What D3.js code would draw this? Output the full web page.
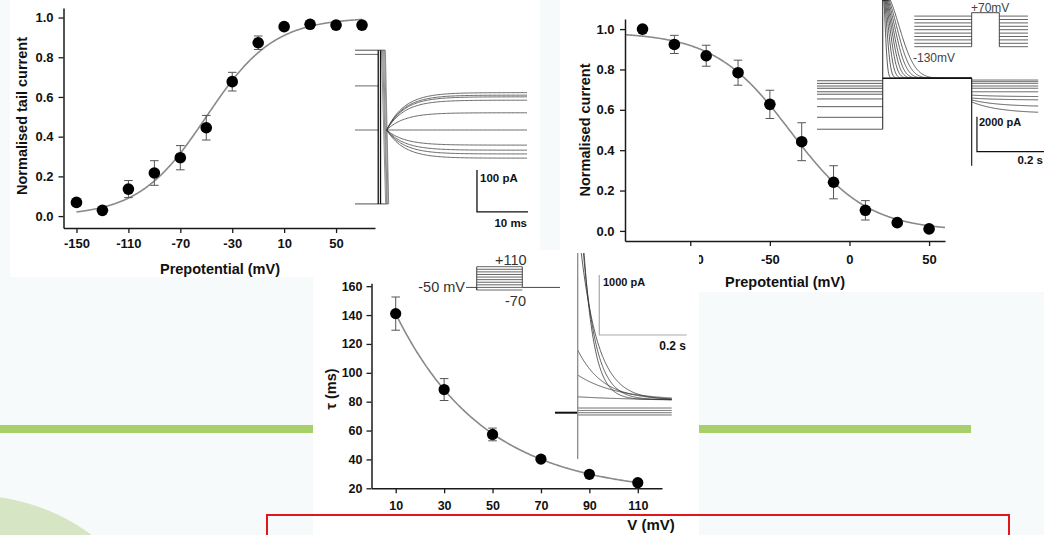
<!DOCTYPE html>
<html>
<head>
<meta charset="utf-8">
<script src="https://cdn.jsdelivr.net/npm/d3@7"></script>
<style>
  html, body { margin: 0; padding: 0; background: #f6fafb; overflow: hidden; }
  svg { display: block; }
</style>
</head>
<body>
<svg id="fig" width="1044" height="535"></svg>
<script>
// ---------------- data ----------------
// Activation: normalised tail current vs prepotential
const actV      = [-150, -130, -110, -90, -70, -50, -30, -10, 10, 30, 50, 70];
const actI      = [0.069, 0.029, 0.136, 0.217, 0.294, 0.445, 0.677, 0.873, 0.954, 0.966, 0.962, 0.962];
const actErr    = [0, 0, 0.043, 0.062, 0.061, 0.062, 0.047, 0.034, 0, 0, 0, 0];
const actXTicks = [-150, -110, -70, -30, 10, 50];
const normYTicks = [0, 0.2, 0.4, 0.6, 0.8, 1.0];
const actFit    = { v50: -50, k: 26 };

// Inactivation: normalised current vs prepotential
const inactV      = [-130, -110, -90, -70, -50, -30, -10, 10, 30, 50];
const inactI      = [1.0, 0.924, 0.868, 0.784, 0.627, 0.442, 0.241, 0.102, 0.041, 0.010];
const inactErr    = [0, 0.045, 0.052, 0.062, 0.070, 0.094, 0.082, 0.048, 0, 0];
const inactXTicks = [-100, -50, 0, 50];
const inactFit    = { top: 0.985, v50: -37, k: 24 };

// Inactivation time constant vs test potential
const tauV      = [10, 30, 50, 70, 90, 110];
const tauMs     = [141, 88.4, 57.3, 40.2, 29.7, 23.9];
const tauErr    = [11.5, 7.6, 4.4, 0, 0, 0];
const tauXTicks = [10, 30, 50, 70, 90, 110];
const tauYTicks = [20, 40, 60, 80, 100, 120, 140, 160];
const tauFit    = { a: 164.5, s: 36.7, c: 15.7 };

// Example records (insets)
const tailPre    = [180, 105, 0];                                   // pA, before the step
const tailLevels = [89, 83, 79, 71, 41, 0, -36, -48, -57, -67];     // pA, settled tail currents
const inactPre   = [-0.14, -0.29, -0.44, -0.57, -0.77, -0.91, -1.18, -1.62, -2.23, -2.91]; // nA
const inactPeakTau = [0.010, 0.016, 0.022, 0.028, 0.034, 0.040, 0.047, 0.055, 0.065];   // s
const inactTailStart = [-0.10, -0.19, -0.29, -0.44, -0.57, -0.77, -0.96, -1.13, -1.24, -1.35];
const inactTailEnd   = [-0.10, -0.19, -0.29, -0.44, -0.57, -0.77, -1.05, -1.24, -1.62, -2.00];
const stepV      = [-70, -50, -30, -10, 10, 30, 50, 70, 90, 110];   // mV, test steps
const stepSteady = [-38, 0, 37, 78, 205, 208, 210, 212, 214, 216];  // pA
const stepAmp    = [0, 0, 0, 0, 60, 420, 835, 3000, 3800, 4500];    // pA, decaying part

// ---------------- drawing ----------------
const FONT = "'Liberation Sans', Arial, Helvetica, sans-serif";
const W = 1044, H = 535;
const svg = d3.select("#fig");

// backdrop
svg.append("rect").attr("width", W).attr("height", H).attr("fill", "#f6fafb");
svg.append("circle").attr("cx", -30).attr("cy", 700).attr("r", 205).attr("fill", "#d6e5c4");
svg.append("rect").attr("x", 0).attr("y", 425).attr("width", 971).attr("height", 8).attr("fill", "#a8d06a");

function panel(x, y, w, h) {
  svg.append("rect").attr("x", x).attr("y", y).attr("width", w).attr("height", h).attr("fill", "#ffffff");
}

function label(g, txt, x, y, size, opts = {}) {
  const t = g.append("text").attr("x", x).attr("y", y)
    .attr("font-family", FONT).attr("font-size", size)
    .attr("font-weight", opts.weight || "bold")
    .attr("fill", opts.fill || "#111")
    .attr("text-anchor", opts.anchor || "middle")
    .text(txt);
  if (opts.rotate) t.attr("transform", `rotate(-90,${x},${y})`);
  return t;
}

function drawChart(cfg) {
  const g = svg.append("g");
  const { x, y } = cfg;
  const line = d3.line().x(d => x(d[0])).y(d => y(d[1]));
  const fitPts = d3.range(cfg.fitFrom, cfg.fitTo + 0.001, 0.5).map(v => [v, cfg.fit(v)]);
  g.append("path").attr("d", line(fitPts)).attr("fill", "none")
    .attr("stroke", "#8a8a8a").attr("stroke-width", 1.6);

  const eb = g.append("g").attr("stroke", "#555").attr("stroke-width", 1);
  cfg.xs.forEach((v, i) => {
    const e = cfg.err[i];
    if (!e) return;
    const m = cfg.ys[i];
    eb.append("line").attr("x1", x(v)).attr("x2", x(v)).attr("y1", y(m - e)).attr("y2", y(m + e));
    [m - e, m + e].forEach(b => eb.append("line")
      .attr("x1", x(v) - 4.3).attr("x2", x(v) + 4.3).attr("y1", y(b)).attr("y2", y(b)));
  });

  g.append("g").selectAll("circle").data(cfg.xs).join("circle")
    .attr("cx", d => x(d)).attr("cy", (d, i) => y(cfg.ys[i]))
    .attr("r", cfg.r).attr("fill", "#000");

  const xa = g.append("g").attr("transform", `translate(0,${y.range()[0]})`)
    .call(d3.axisBottom(x).tickValues(cfg.xt).tickSize(5).tickSizeOuter(0)
      .tickPadding(cfg.xpad).tickFormat(d => String(d)));
  const ya = g.append("g").attr("transform", `translate(${x.range()[0]},0)`)
    .call(d3.axisLeft(y).tickValues(cfg.yt).tickSize(5).tickSizeOuter(0)
      .tickPadding(cfg.ypad).tickFormat(cfg.yfmt));
  [xa, ya].forEach(a => {
    a.select(".domain").attr("stroke", "#1a1a1a").attr("stroke-width", 1.5);
    a.selectAll(".tick line").attr("stroke", "#1a1a1a").attr("stroke-width", 1.3);
    a.selectAll("text").attr("font-family", FONT).attr("font-weight", "bold")
      .attr("font-size", cfg.fs).attr("fill", "#111");
  });
  return g;
}

// ===== top-left panel: activation =====
panel(10, 0, 530, 277);
{
  const x = d3.scaleLinear().domain([-160, 80]).range([63.5, 375]);
  const y = d3.scaleLinear().domain([-0.06, 1.048]).range([228, 8]);
  const g = drawChart({
    x, y, xs: actV, ys: actI, err: actErr, xt: actXTicks, yt: normYTicks,
    yfmt: d3.format(".1f"), fs: 13, xpad: 6, ypad: 5, r: 5.8,
    fit: v => 1 / (1 + Math.exp((actFit.v50 - v) / actFit.k)), fitFrom: -150, fitTo: 70
  });
  label(g, "Prepotential (mV)", 220, 274, 14.5);
  label(g, "Normalised tail current", 27, 116, 14.5, { rotate: true });

  // tail current records
  const t = d3.scaleLinear().domain([0, 33.7]).range([355, 527]);     // ms
  const i = d3.scaleLinear().domain([-200, 200]).range([214, 46]);    // pA
  const ln = d3.line().x(d => t(d[0])).y(d => i(d[1]));
  const tr = svg.append("g").attr("fill", "none").attr("stroke", "#444").attr("stroke-width", 0.8);
  tailPre.forEach(p => tr.append("path").attr("d", ln([[0, p], [4.55, p]])));
  tr.append("path").attr("d", ln([[0, 190], [5.9, 190]])).attr("stroke", "#222");
  tr.append("path").attr("d", ln([[0, -176], [6.5, -176]])).attr("stroke", "#222");
  [[5.2, 6.0], [5.4, 6.2], [5.6, 6.3], [5.8, 6.5], [5.95, 6.6]].forEach(([a, b]) =>
    tr.append("path").attr("d", ln([[a, 190], [b, -176]])).attr("stroke", "#777"));
  [4.55, 5.0].forEach(tt => tr.append("path").attr("d", ln([[tt, 190], [tt, -176]]))
    .attr("stroke", "#111").attr("stroke-width", 1.3));
  tailLevels.forEach(ss => {
    const pts = d3.range(6.2, 33.71, 0.25).map(tt => [tt, ss * (1 - Math.exp(-(tt - 6.2) / 3.5))]);
    tr.append("path").attr("d", ln(pts));
  });
  // scale bar
  const sb = svg.append("g").attr("fill", "none").attr("stroke", "#111").attr("stroke-width", 1.3);
  sb.append("path").attr("d", ln([[23.9, -95], [23.9, -195], [33.9, -195]]));
  label(svg, "100 pA", 480, 181.5, 11.5, { anchor: "start" });
  label(svg, "10 ms", 527, 226.5, 11.5, { anchor: "end" });
}

// ===== top-right panel: inactivation =====
panel(560, 0, 484, 292);
{
  const x = d3.scaleLinear().domain([-141, 60]).range([625, 945]);
  const y = d3.scaleLinear().domain([-0.05, 1.05]).range([241, 19]);
  const g = drawChart({
    x, y, xs: inactV, ys: inactI, err: inactErr, xt: inactXTicks, yt: normYTicks,
    yfmt: d3.format(".1f"), fs: 13, xpad: 9, ypad: 5.5, r: 5.8,
    fit: v => inactFit.top / (1 + Math.exp((v - inactFit.v50) / inactFit.k)), fitFrom: -141, fitTo: 60
  });
  label(g, "Prepotential (mV)", 785, 286.5, 14.5);
  label(g, "Normalised current", 590, 130, 14.5, { rotate: true });

  // current records
  const t = d3.scaleLinear().domain([0, 0.632]).range([817, 1038.2]);   // s
  const i = d3.scaleLinear().domain([-5, 5]).range([165.8, -9.2]);      // nA
  const ln = d3.line().x(d => t(d[0])).y(d => i(d[1]));
  const s1 = 0.1877, s2 = 0.442, clipTop = 4.47;
  const tr = svg.append("g").attr("fill", "none").attr("stroke", "#333").attr("stroke-width", 0.8);
  inactPre.forEach(p => tr.append("path").attr("d", ln([[0, p], [s1, p]])));
  tr.append("path").attr("d", ln([[s1, d3.min(inactPre)], [s1, clipTop]])).attr("stroke-width", 1.1);
  inactPeakTau.forEach(tau => {
    const pts = d3.range(s1, s2 + 0.0001, 0.001)
      .map(tt => [tt, Math.min(clipTop, 5 * Math.exp(-Math.pow((tt - s1) / tau, 2)))]);
    tr.append("path").attr("d", ln(pts));
  });
  tr.append("path").attr("d", ln([[s1, 0], [s2, 0]])).attr("stroke", "#111").attr("stroke-width", 1.6);
  tr.append("path").attr("d", ln([[s2, 0], [s2, -5]])).attr("stroke", "#111").attr("stroke-width", 1.1);
  inactTailStart.forEach((a, k) => {
    const b = inactTailEnd[k];
    const pts = d3.range(s2, 0.6321, 0.002).map(tt => [tt, b + (a - b) * Math.exp(-(tt - s2) / 0.08)]);
    tr.append("path").attr("d", ln(pts));
  });
  // scale bar
  svg.append("path").attr("d", ln([[0.457, -2.19], [0.457, -4.19], [0.657, -4.19]]))
    .attr("fill", "none").attr("stroke", "#111").attr("stroke-width", 1.2);
  label(svg, "2000 pA", 979, 126, 11, { anchor: "start" });
  label(svg, "0.2 s", 1043, 163.5, 11.5, { anchor: "end" });

  // voltage protocol
  const pt = d3.scaleLinear().domain([0, 0.325]).range([914.3, 1028]);  // s
  const pv = d3.scaleLinear().domain([-130, 70]).range([46.7, 12.7]);   // mV
  const pl = d3.line().x(d => pt(d[0])).y(d => pv(d[1]));
  const pg = svg.append("g").attr("fill", "none").attr("stroke", "#555").attr("stroke-width", 0.9);
  inactV.forEach(v => {
    pg.append("path").attr("d", pl([[0, v], [0.164, v]]));
    pg.append("path").attr("d", pl([[0.243, v], [0.325, v]]));
  });
  pg.append("path").attr("d", pl([[0.164, -130], [0.164, 70], [0.243, 70], [0.243, -130]])).attr("stroke", "#333");
  label(svg, "+70mV", 971, 11.5, 12, { anchor: "start", weight: "normal", fill: "#444" });
  label(svg, "-130mV", 913, 61.5, 12, { anchor: "start", weight: "normal", fill: "#444" });
}

// ===== bottom panel: time constant =====
panel(313, 250, 386, 285);
{
  const x = d3.scaleLinear().domain([0, 120]).range([371.5, 662]);
  const y = d3.scaleLinear().domain([20, 162]).range([488.3, 283.3]);
  const g = drawChart({
    x, y, xs: tauV, ys: tauMs, err: tauErr, xt: tauXTicks, yt: tauYTicks,
    yfmt: d3.format("d"), fs: 12.5, xpad: 8, ypad: 4, r: 5.6,
    fit: v => tauFit.a * Math.exp(-v / tauFit.s) + tauFit.c, fitFrom: 10, fitTo: 110
  });
  label(g, "V (mV)", 651, 529.5, 15);
  label(g, "\u03c4 (ms)", 336, 389, 14.5, { rotate: true });

  // voltage protocol
  const pt = d3.scaleLinear().domain([0, 1]).range([466, 560]);
  const pv = d3.scaleLinear().domain([-70, 110]).range([290, 266.7]);
  const pl = d3.line().x(d => pt(d[0])).y(d => pv(d[1]));
  const pg = svg.append("g").attr("fill", "none").attr("stroke", "#555").attr("stroke-width", 0.9);
  const a0 = 0.114, a1 = 0.599;
  stepV.forEach(v => pg.append("path").attr("d", pl([[a0, v], [a1, v]])));
  pg.append("path").attr("d", pl([[0, -50], [a0, -50], [a0, -70], [a0, 110]])).attr("stroke", "#333");
  pg.append("path").attr("d", pl([[a1, 110], [a1, -50], [1, -50]])).attr("stroke", "#333");
  label(svg, "-50 mV", 465, 291.5, 14.5, { anchor: "end", weight: "normal", fill: "#333" });
  label(svg, "+110", 495, 265, 14.5, { anchor: "start", weight: "normal", fill: "#333" });
  label(svg, "-70", 505, 305.5, 14.5, { anchor: "start", weight: "normal", fill: "#333" });

  // current records; off-scale onsets start where they re-enter the frame
  const t = d3.scaleLinear().domain([0, 0.215]).range([577.7, 671.7]);   // s
  const i = d3.scaleLinear().domain([-1000, 3000]).range([472.7, 232.7]); // pA
  const ln = d3.line().x(d => t(d[0])).y(d => i(d[1]));
  const clipTop = 2660;
  const tr = svg.append("g").attr("fill", "none").attr("stroke", "#333").attr("stroke-width", 0.8);
  stepV.forEach((v, k) => {
    const tauS = k >= 4 ? tauMs[k - 4] / 1000 : 1;
    const ss = stepSteady[k], A = stepAmp[k];
    const t0 = A > clipTop - ss ? tauS * Math.log(A / (clipTop - ss)) : 0;
    const pts = [t0].concat(d3.range(0, 0.2151, 0.001).filter(tt => tt > t0))
      .map(tt => [tt, ss + A * Math.exp(-tt / tauS)]);
    tr.append("path").attr("d", ln(pts));
  });
  svg.append("path").attr("d", ln([[-0.052, 0], [0, 0]]))
    .attr("stroke", "#111").attr("stroke-width", 2);
  svg.append("path").attr("d", ln([[0, clipTop], [0, -770]]))
    .attr("stroke", "#8a8a8a").attr("stroke-width", 1.3);
  // scale bar
  svg.append("path").attr("d", ln([[0.0494, 2295], [0.0494, 1295], [0.2494, 1295]]))
    .attr("fill", "none").attr("stroke", "#aaa").attr("stroke-width", 1.2);
  label(svg, "1000 pA", 603, 286, 11, { anchor: "start" });
  label(svg, "0.2 s", 686, 349.5, 12, { anchor: "end" });
}

// frame
svg.append("rect").attr("x", 267).attr("y", 515).attr("width", 742).attr("height", 40)
  .attr("fill", "none").attr("stroke", "#e3141b").attr("stroke-width", 2);
</script>
</body>
</html>
